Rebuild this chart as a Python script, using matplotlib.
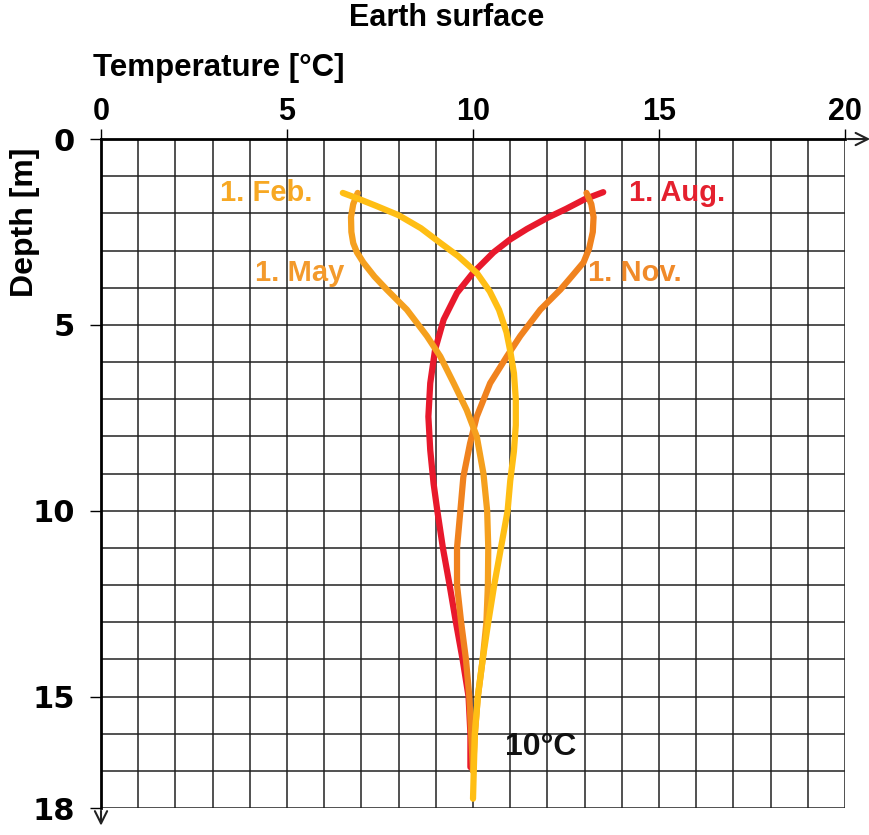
import matplotlib
matplotlib.use("Agg")
import matplotlib.pyplot as plt
from matplotlib.ticker import MultipleLocator, FixedLocator

plt.rcParams['font.family'] = ['Liberation Sans', 'DejaVu Sans']
plt.rcParams['font.weight'] = 'bold'

# temperature [°C] vs depth [m]
feb_t = [6.5, 6.9, 7.4, 8.0, 8.6, 9.1, 9.6, 10.1, 10.45, 10.7, 10.9, 11.0, 11.1, 11.15, 11.15, 11.1, 11.0, 10.93, 10.75, 10.57, 10.41, 10.26, 10.13, 10.05, 10.02, 10.0]
feb_d = [1.45, 1.6, 1.8, 2.05, 2.4, 2.78, 3.15, 3.6, 4.1, 4.6, 5.2, 5.7, 6.3, 7.0, 7.7, 8.4, 9.2, 10.0, 11.0, 12.0, 13.0, 14.0, 15.0, 16.0, 17.0, 17.75]

aug_t = [13.5, 13.0, 12.5, 12.0, 11.45, 11.0, 10.55, 10.0, 9.57, 9.21, 8.98, 8.85, 8.8, 8.85, 8.94, 9.04, 9.19, 9.37, 9.54, 9.72, 9.88, 9.93, 9.93]
aug_d = [1.43, 1.62, 1.88, 2.12, 2.42, 2.7, 3.05, 3.6, 4.14, 4.86, 5.67, 6.57, 7.47, 8.37, 9.27, 10.0, 11.0, 12.0, 13.0, 14.0, 15.0, 16.0, 16.9]

may_t = [6.9, 6.78, 6.72, 6.73, 6.78, 6.88, 7.05, 7.35, 7.68, 8.22, 8.76, 9.12, 9.48, 9.83, 10.1, 10.28, 10.38, 10.41, 10.4, 10.36, 10.26, 10.13, 10.05, 10.0]
may_d = [1.45, 1.75, 2.1, 2.5, 2.8, 3.05, 3.32, 3.7, 4.05, 4.59, 5.3, 5.85, 6.57, 7.29, 8.0, 9.0, 10.0, 11.0, 12.0, 13.0, 14.0, 15.0, 16.0, 17.0]

nov_t = [13.05, 13.18, 13.24, 13.22, 13.12, 12.97, 12.65, 12.35, 11.81, 11.27, 10.91, 10.46, 10.1, 9.92, 9.74, 9.66, 9.57, 9.57, 9.68, 9.81, 9.9, 9.95, 10.0]
nov_d = [1.45, 1.75, 2.1, 2.5, 2.95, 3.32, 3.7, 4.05, 4.59, 5.3, 5.85, 6.57, 7.47, 8.19, 9.09, 10.0, 11.0, 12.0, 13.0, 14.0, 15.0, 16.0, 17.0]

x_ticks = [0, 5, 10, 15, 20]
y_ticks = [0, 5, 10, 15, 18]

fig = plt.figure(figsize=(8.7, 8.35), dpi=100)
ax = fig.add_axes([0.1161, 0.0323, 0.8552, 0.8012])

lw = 4.5
ax.plot(aug_t, aug_d, color='#e8192c', lw=lw, solid_capstyle='round', solid_joinstyle='round', zorder=3)
ax.plot(nov_t, nov_d, color='#f0821e', lw=lw, solid_capstyle='round', solid_joinstyle='round', zorder=3)
ax.plot(may_t, may_d, color='#f5a01e', lw=lw, solid_capstyle='round', solid_joinstyle='round', zorder=4)
ax.plot(feb_t, feb_d, color='#ffbe14', lw=lw, solid_capstyle='round', solid_joinstyle='round', zorder=4)

ax.set_xlim(0, 20)
ax.set_ylim(18, 0)

ax.xaxis.tick_top()
ax.xaxis.set_major_locator(FixedLocator(x_ticks))
ax.yaxis.set_major_locator(FixedLocator(y_ticks))
ax.xaxis.set_minor_locator(MultipleLocator(1))
ax.yaxis.set_minor_locator(MultipleLocator(1))
ax.grid(which='both', color='#222222', lw=1.1, zorder=1)
ax.tick_params(which='minor', length=0)
ax.tick_params(axis='x', which='major', length=7, width=1, pad=2, labelsize=22)
ax.tick_params(axis='y', which='major', length=8, width=1, pad=11, labelsize=22)
for lab in ax.get_yticklabels():
    lab.set_family('DejaVu Sans')
    lab.set_fontweight('bold')

for s in ['right', 'bottom']:
    ax.spines[s].set_visible(False)
for s in ['top', 'left']:
    ax.spines[s].set_linewidth(2)

# axis arrows
ax.annotate('', xy=(20.75, 0), xytext=(20, 0), annotation_clip=False,
            arrowprops=dict(arrowstyle='->', lw=1.5, color='#222222', mutation_scale=22))
ax.annotate('', xy=(0, 18.55), xytext=(0, 18), annotation_clip=False,
            arrowprops=dict(arrowstyle='->', lw=1.5, color='#222222', mutation_scale=22))

# labels on curves
ax.text(3.2, 1.45, '1. Feb.', color='#f7a823', fontsize=21, va='center', ha='left', zorder=5)
ax.text(14.2, 1.45, '1. Aug.', color='#e4202e', fontsize=21, va='center', ha='left', zorder=5)
ax.text(4.15, 3.6, '1. May', color='#f39a2c', fontsize=21, va='center', ha='left', zorder=5)
ax.text(13.1, 3.6, '1. Nov.', color='#f08a2a', fontsize=21, va='center', ha='left', zorder=5)
ax.text(10.85, 16.35, '10°C', color='#111111', fontsize=23, va='center', ha='left', zorder=5)

fig.text(0.513, 0.978, 'Earth surface', fontsize=22, ha='center', va='center')
fig.text(0.107, 0.918, 'Temperature [°C]', fontsize=22.5, ha='left', va='center')
fig.text(0.029, 0.734, 'Depth [m]', fontsize=23, ha='center', va='center', rotation=90)

fig.savefig('out.png', dpi=100)
